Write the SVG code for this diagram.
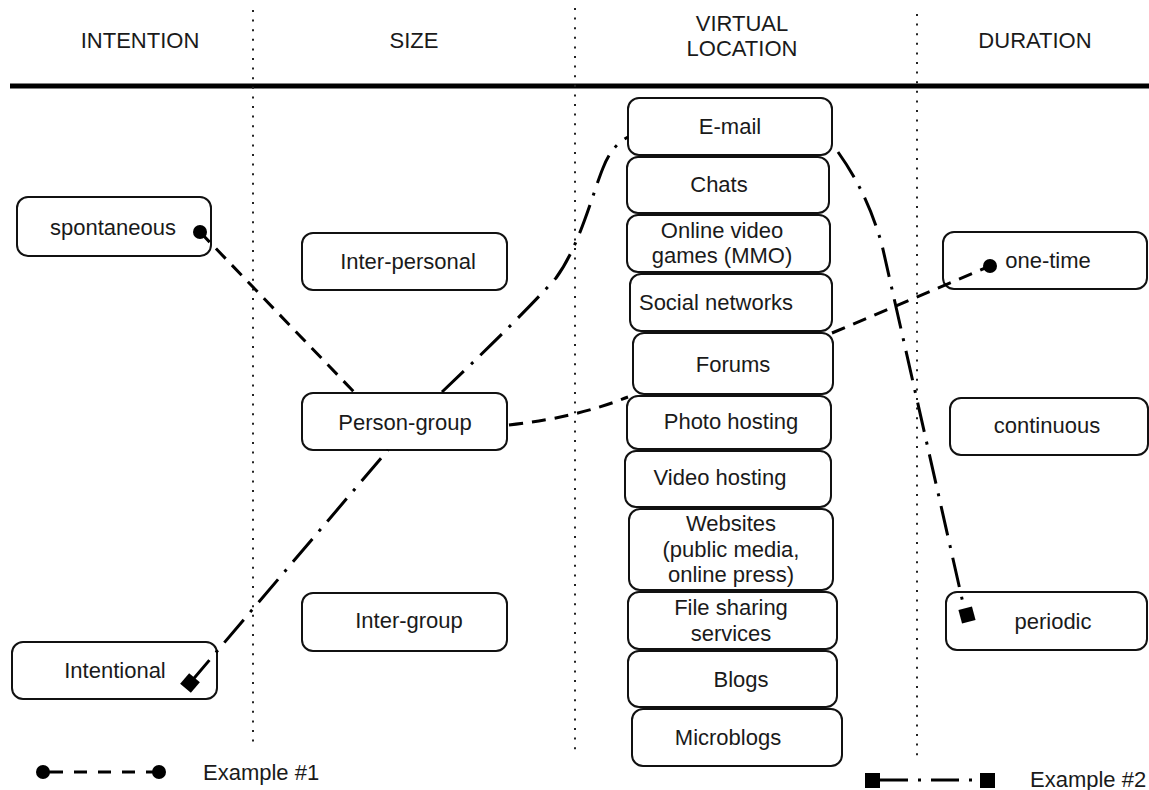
<svg xmlns="http://www.w3.org/2000/svg" width="1149" height="790" viewBox="0 0 1149 790">
<style>
text{font-family:"Liberation Sans",Arial,sans-serif;font-size:22px;fill:#1a1a1a;text-anchor:middle}
.box{fill:#fff;stroke:#111;stroke-width:2}
.sep{stroke:#222;stroke-width:2;stroke-dasharray:2,7.6}
.ex1{fill:none;stroke:#000;stroke-width:3;stroke-dasharray:14,9}
.ex2{fill:none;stroke:#000;stroke-width:3;stroke-dasharray:30,10,3,10}
.leg{text-anchor:start}
</style>
<g id="grid">
<line x1="10" y1="86" x2="1149" y2="86" stroke="#000" stroke-width="5"/>
<line class="sep" x1="253" y1="10" x2="253" y2="748"/>
<line class="sep" x1="575" y1="8" x2="575" y2="750"/>
<line class="sep" x1="917" y1="14" x2="917" y2="756"/>
</g>
<g id="headers">
<text x="140" y="48">INTENTION</text>
<text x="414" y="48">SIZE</text>
<text x="742" y="31">VIRTUAL</text>
<text x="742" y="56">LOCATION</text>
<text x="1035" y="48">DURATION</text>
</g>
<g id="n-spontaneous"><rect class="box" x="17" y="197" width="194" height="59" rx="11"/><text x="113" y="235">spontaneous</text></g>
<g id="n-intentional"><rect class="box" x="12" y="642" width="205" height="57" rx="11"/><text x="115" y="678">Intentional</text></g>
<g id="n-interpersonal"><rect class="box" x="302" y="233" width="205" height="57" rx="11"/><text x="408" y="269">Inter-personal</text></g>
<g id="n-persongroup"><rect class="box" x="302" y="393" width="205" height="57" rx="11"/><text x="405" y="430">Person-group</text></g>
<g id="n-intergroup"><rect class="box" x="302" y="593" width="205" height="58" rx="11"/><text x="409" y="628">Inter-group</text></g>
<g id="n-email"><rect class="box" x="628" y="98" width="204" height="57" rx="11"/><text x="730" y="134">E-mail</text></g>
<g id="n-chats"><rect class="box" x="627" y="157" width="202" height="56" rx="11"/><text x="719" y="192">Chats</text></g>
<g id="n-games"><rect class="box" x="627" y="215" width="203" height="57" rx="11"/><text x="722" y="238">Online video</text><text x="722" y="263">games (MMO)</text></g>
<g id="n-social"><rect class="box" x="630" y="274" width="202" height="57" rx="11"/><text x="716" y="310">Social networks</text></g>
<g id="n-forums"><rect class="box" x="633" y="333" width="200" height="61" rx="11"/><text x="733" y="372">Forums</text></g>
<g id="n-photo"><rect class="box" x="627" y="396" width="204" height="53" rx="11"/><text x="731" y="429">Photo hosting</text></g>
<g id="n-video"><rect class="box" x="625" y="451" width="206" height="56" rx="11"/><text x="720" y="485">Video hosting</text></g>
<g id="n-websites"><rect class="box" x="629" y="509" width="204" height="81" rx="11"/><text x="731" y="531">Websites</text><text x="731" y="557">(public media,</text><text x="731" y="582">online press)</text></g>
<g id="n-filesharing"><rect class="box" x="628" y="592" width="209" height="57" rx="11"/><text x="731" y="615">File sharing</text><text x="731" y="641">services</text></g>
<g id="n-blogs"><rect class="box" x="628" y="651" width="209" height="56" rx="11"/><text x="741" y="687">Blogs</text></g>
<g id="n-microblogs"><rect class="box" x="632" y="709" width="210" height="57" rx="11"/><text x="728" y="745">Microblogs</text></g>
<g id="n-onetime"><rect class="box" x="943" y="232" width="204" height="57" rx="11"/><text x="1048" y="268">one-time</text></g>
<g id="n-continuous"><rect class="box" x="950" y="398" width="198" height="57" rx="11"/><text x="1047" y="433">continuous</text></g>
<g id="n-periodic"><rect class="box" x="946" y="592" width="201" height="58" rx="11"/><text x="1053" y="629">periodic</text></g>
<g id="connectors">
<path class="ex1" d="M200,232 L355,393"/>
<path class="ex1" d="M509,425 Q575,418 628,397"/>
<path class="ex1" d="M832,333 L990,266"/>
<circle cx="200" cy="232" r="7"/>
<circle cx="990" cy="266" r="7"/>
<path class="ex2" d="M190,683 L388,450 M442,392 Q520,318 556,278 C580,245 592,195 603,168 Q612,145 628,137"/>
<path class="ex2" d="M838,152 C858,180 872,210 882,245 L965,612"/>
<rect x="183" y="676" width="14" height="14" transform="rotate(40 190 683)"/>
<rect x="960" y="608" width="14" height="14" transform="rotate(-15 967 615)"/>
</g>
<g id="legend">
<circle cx="43" cy="772" r="7"/>
<circle cx="159" cy="772" r="7"/>
<line x1="43" y1="772" x2="63" y2="772" stroke="#000" stroke-width="3"/>
<line class="ex1" x1="74" y1="772" x2="159" y2="772" style="stroke-dasharray:13,11"/>
<text class="leg" x="203" y="780">Example #1</text>
<rect x="865" y="773" width="15" height="15"/>
<rect x="980" y="773" width="15" height="15"/>
<line class="ex2" x1="880" y1="780" x2="980" y2="780" style="stroke-dasharray:28,10,3,10"/>
<text class="leg" x="1030" y="787">Example #2</text>
</g>
</svg>
